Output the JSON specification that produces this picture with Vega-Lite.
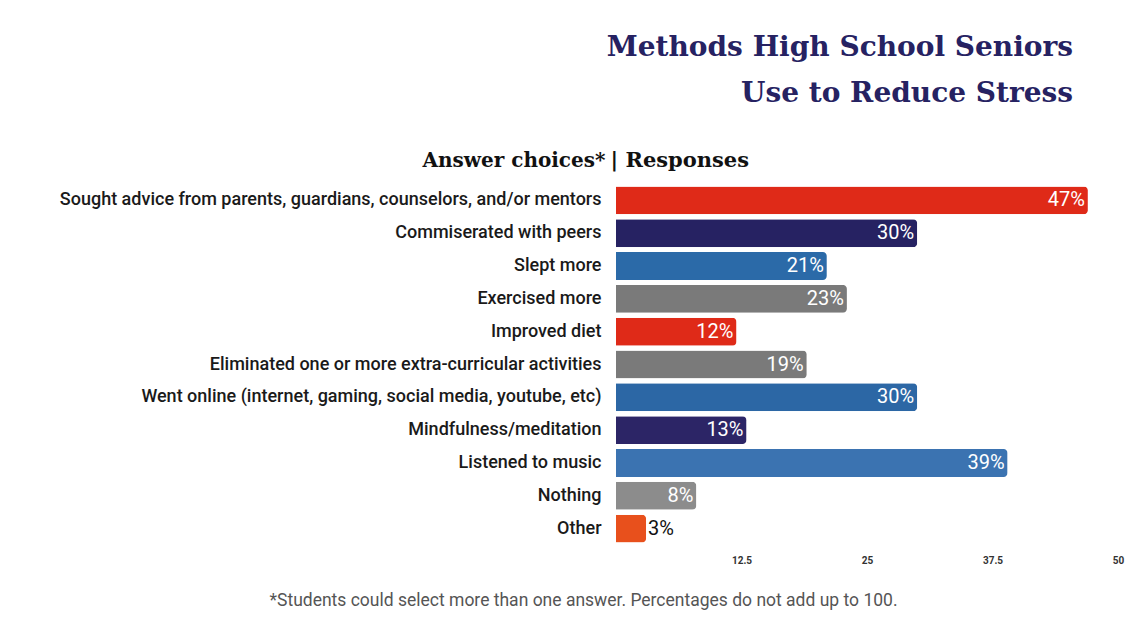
{
  "$schema": "https://vega.github.io/schema/vega-lite/v6.json",
  "autosize": {"type": "none"},
  "width": 502,
  "height": 361,
  "padding": {"left": 616, "top": 184, "right": 29, "bottom": 93},
  "background": "white",
  "config": {"view": {"stroke": null}},
  "title": {
    "text": ["Methods High School Seniors", "Use to Reduce Stress"],
    "anchor": "end",
    "frame": "group",
    "align": "right",
    "font": "DejaVu Serif",
    "fontWeight": "bold",
    "fontSize": 28,
    "color": "#262262",
    "lineHeight": 46,
    "dx": -45,
    "offset": 41
  },
  "data": {
    "values": [
      {"answer": "Sought advice from parents, guardians, counselors, and/or mentors", "pct": 47, "label": "47%"},
      {"answer": "Commiserated with peers", "pct": 30, "label": "30%"},
      {"answer": "Slept more", "pct": 21, "label": "21%"},
      {"answer": "Exercised more", "pct": 23, "label": "23%"},
      {"answer": "Improved diet", "pct": 12, "label": "12%"},
      {"answer": "Eliminated one or more extra-curricular activities", "pct": 19, "label": "19%"},
      {"answer": "Went online (internet, gaming, social media, youtube, etc)", "pct": 30, "label": "30%"},
      {"answer": "Mindfulness/meditation", "pct": 13, "label": "13%"},
      {"answer": "Listened to music", "pct": 39, "label": "39%"},
      {"answer": "Nothing", "pct": 8, "label": "8%"},
      {"answer": "Other", "pct": 3, "label": "3%"}
    ]
  },
  "layer": [
    {
      "mark": {"type": "bar", "cornerRadiusEnd": 4},
      "encoding": {
        "y": {
          "field": "answer", "type": "nominal", "sort": null,
          "scale": {"paddingInner": 0.15, "paddingOuter": 0.075},
          "axis": {
            "title": "Answer choices*",
            "titleAngle": 0,
            "titleX": -11,
            "titleY": -24,
            "titleAlign": "right",
            "titleBaseline": "middle",
            "titleFont": "DejaVu Serif",
            "titleFontSize": 20,
            "titleFontWeight": "bold",
            "titleColor": "#111111",
            "labelFont": "Roboto",
            "labelFontSize": 18,
            "labelFontWeight": 500,
            "labelColor": "#1a1a1a",
            "labelPadding": 15,
            "labelLimit": 700,
            "ticks": false,
            "domain": false,
            "grid": false
          }
        },
        "x": {
          "field": "pct", "type": "quantitative",
          "scale": {"domain": [0, 50]},
          "axis": {
            "orient": "bottom",
            "values": [12.5, 25, 37.5, 50],
            "format": ".3~g",
            "labelFont": "Roboto",
            "labelFontSize": 10,
            "labelFontWeight": "bold",
            "labelColor": "#333333",
            "labelPadding": 10,
            "labelFlush": false,
            "ticks": false,
            "domain": false,
            "grid": false,
            "title": "*Students could select more than one answer. Percentages do not add up to 100.",
            "titleX": -33,
            "titleY": 55,
            "titleAlign": "center",
            "titleBaseline": "middle",
            "titleFont": "Roboto",
            "titleFontSize": 17.5,
            "titleFontWeight": "normal",
            "titleColor": "#555555"
          }
        },
        "color": {
          "field": "answer", "type": "nominal", "legend": null,
          "scale": {
            "domain": [
              "Sought advice from parents, guardians, counselors, and/or mentors",
              "Commiserated with peers",
              "Slept more",
              "Exercised more",
              "Improved diet",
              "Eliminated one or more extra-curricular activities",
              "Went online (internet, gaming, social media, youtube, etc)",
              "Mindfulness/meditation",
              "Listened to music",
              "Nothing",
              "Other"
            ],
            "range": ["#df2a18", "#262262", "#2b6aa8", "#7a7a7a", "#df2a18", "#7a7a7a", "#2c67a5", "#2c2566", "#3b73b1", "#8c8c8c", "#e8501c"]
          }
        }
      }
    },
    {
      "transform": [{"filter": "datum.pct >= 5"}],
      "mark": {"type": "text", "align": "right", "baseline": "middle", "dx": -3, "font": "Roboto", "fontSize": 20, "color": "white"},
      "encoding": {
        "y": {"field": "answer", "type": "nominal", "sort": null},
        "x": {
          "field": "pct", "type": "quantitative",
          "axis": {
            "orient": "top",
            "labels": false,
            "ticks": false,
            "domain": false,
            "grid": false,
            "title": "| Responses",
            "titleX": -6,
            "titleY": -24,
            "titleAlign": "left",
            "titleBaseline": "middle",
            "titleFont": "DejaVu Serif",
            "titleFontSize": 21,
            "titleFontWeight": "bold",
            "titleColor": "#111111"
          }
        },
        "text": {"field": "label", "type": "nominal"}
      }
    },
    {
      "transform": [{"filter": "datum.pct < 5"}],
      "mark": {"type": "text", "align": "left", "baseline": "middle", "dx": 2, "font": "Roboto", "fontSize": 20, "color": "#111111"},
      "encoding": {
        "y": {"field": "answer", "type": "nominal", "sort": null},
        "x": {"field": "pct", "type": "quantitative", "axis": null},
        "text": {"field": "label", "type": "nominal"}
      }
    }
  ],
  "resolve": {"axis": {"x": "independent"}}
}
